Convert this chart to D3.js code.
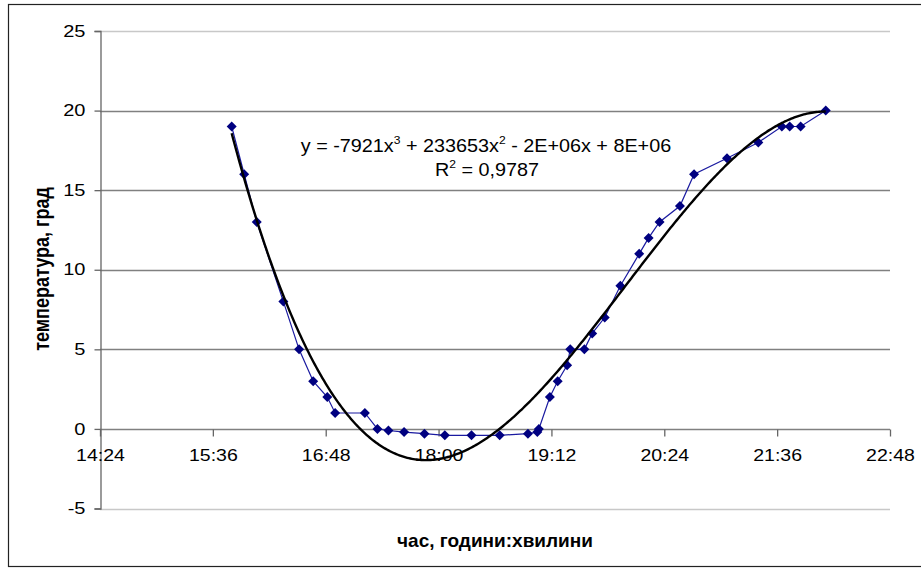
<!DOCTYPE html>
<html>
<head>
<meta charset="utf-8">
<script src="https://cdn.jsdelivr.net/npm/d3@7"></script>
<style>
  body { margin: 0; background: #fff; }
  text { font-family: "Liberation Sans", Arial, sans-serif; }
</style>
</head>
<body>
<svg width="921" height="568"></svg>
<script>
// readings: time of day and temperature
var times = ["15:48","15:56","16:04","16:21","16:31","16:40","16:49","16:54","17:13","17:21",
             "17:28","17:38","17:51","18:04","18:21","18:39","18:57","19:03","19:04","19:11",
             "19:16","19:22","19:24","19:33","19:38","19:46","19:56","20:08","20:14","20:21",
             "20:34","20:43","21:04","21:24","21:39","21:44","21:51","22:07"];
var temps = [19, 16, 13, 8, 5, 3, 2, 1, 1, 0,
             -0.1, -0.2, -0.3, -0.4, -0.4, -0.4, -0.3, -0.2, 0, 2,
             3, 4, 5, 5, 6, 7, 9, 11, 12, 13,
             14, 16, 17, 18, 19, 19, 19, 20];

var xTicks = ["14:24","15:36","16:48","18:00","19:12","20:24","21:36","22:48"];
var yTicks = [-5, 0, 5, 10, 15, 20, 25];

var eqLine1 = ["y = -7921x", "3", " + 233653x", "2", " - 2E+06x + 8E+06"];
var eqLine2 = ["R", "2", " = 0,9787"];

function toMin(s) { var p = s.split(":"); return +p[0] * 60 + +p[1]; }
function fmt(m) { var h = Math.floor(m / 60), mm = m % 60; return h + ":" + (mm < 10 ? "0" : "") + mm; }

var data = times.map(function(t, i) { return { t: toMin(t), v: temps[i] }; });

var svg = d3.select("svg");

// chart border
svg.append("rect")
    .attr("x", 8.5).attr("y", 4.5)
    .attr("width", 940).attr("height", 562)
    .attr("fill", "none").attr("stroke", "#222").attr("stroke-width", 1.2);

var xScale = d3.scaleLinear()
    .domain([toMin(xTicks[0]), toMin(xTicks[xTicks.length - 1])])
    .range([100, 890]);
var yScale = d3.scaleLinear()
    .domain([-5, 25])
    .range([508.5, 31]);

// gridlines
svg.append("g").selectAll("line")
    .data(yTicks)
    .enter().append("line")
    .attr("x1", 100).attr("x2", 890)
    .attr("y1", d => Math.round(yScale(d)) + 0.5)
    .attr("y2", d => Math.round(yScale(d)) + 0.5)
    .attr("stroke", d => (d == 25 || d == -5) ? "#c8c8c8" : "#808080")
    .attr("stroke-width", 1.3);

// y axis
var yAxis = svg.append("g")
    .attr("transform", "translate(100.5,0)")
    .call(d3.axisLeft(yScale).tickValues(yTicks).tickSize(6).tickPadding(10)
      .tickFormat(d => d));
yAxis.select(".domain").attr("stroke", "#666").attr("stroke-width", 1.3);
yAxis.selectAll(".tick line").attr("stroke", "#666").attr("stroke-width", 1.3);
yAxis.selectAll("text")
    .attr("font-size", 16).attr("fill", "#000")
    .attr("x", 0).attr("dx", 0)
    .attr("transform", "translate(-15,0) scale(1.25,1)");

// x axis crossing at 0
var xAxis = svg.append("g")
    .attr("transform", "translate(0," + (Math.round(yScale(0)) + 0.5) + ")")
    .call(d3.axisBottom(xScale).tickValues(xTicks.map(toMin)).tickSize(7).tickPadding(13)
      .tickFormat(fmt));
xAxis.select(".domain").remove();
xAxis.selectAll(".tick line").attr("stroke", "#666").attr("stroke-width", 1.3);
xAxis.selectAll("text")
    .attr("font-size", 16).attr("fill", "#000")
    .attr("transform", "scale(1.22,1)");

// cubic least-squares trendline
var tc = 1080;
function fitCubic(pts) {
  var n = 4, A = [], i, j, k;
  for (i = 0; i < n; i++) { A.push([0, 0, 0, 0, 0]); }
  pts.forEach(function(p) {
    var x = (p.t - tc) / 60;
    for (i = 0; i < n; i++) {
      for (j = 0; j < n; j++) A[i][j] += Math.pow(x, i + j);
      A[i][n] += p.v * Math.pow(x, i);
    }
  });
  for (i = 0; i < n; i++) {
    for (k = i + 1; k < n; k++) {
      var f = A[k][i] / A[i][i];
      for (j = i; j <= n; j++) A[k][j] -= f * A[i][j];
    }
  }
  var c = [0, 0, 0, 0];
  for (i = n - 1; i >= 0; i--) {
    var s = A[i][n];
    for (j = i + 1; j < n; j++) s -= A[i][j] * c[j];
    c[i] = s / A[i][i];
  }
  return c;
}
var coef = fitCubic(data);
var trend = d3.range(data[0].t, data[data.length - 1].t + 0.5, 1).map(function(t) {
  var x = (t - tc) / 60;
  return { t: t, v: coef[0] + coef[1] * x + coef[2] * x * x + coef[3] * x * x * x };
});

// series line
svg.append("path")
    .datum(data)
    .attr("fill", "none")
    .attr("stroke", "#1a1aa0")
    .attr("stroke-width", 1.2)
    .attr("d", d3.line().x(d => xScale(d.t)).y(d => yScale(d.v)));

// markers
svg.append("g").selectAll("path")
    .data(data)
    .enter().append("path")
    .attr("transform", d => "translate(" + xScale(d.t) + "," + yScale(d.v) + ")")
    .attr("d", "M0,-5L5,0L0,5L-5,0Z")
    .attr("fill", "#000080");

svg.append("path")
    .datum(trend)
    .attr("fill", "none")
    .attr("stroke", "#000")
    .attr("stroke-width", 2.4)
    .attr("d", d3.line().x(d => xScale(d.t)).y(d => yScale(d.v)));

// equation label
function richText(parts, x, y) {
  var t = svg.append("text")
      .attr("text-anchor", "middle")
      .attr("font-size", 18)
      .attr("transform", "translate(" + x + "," + y + ") scale(1.1,1)");
  parts.forEach(function(p, i) {
    var sup = i % 2 == 1;
    t.append("tspan")
        .attr("font-size", sup ? 11 : 18)
        .attr("dy", sup ? -8 : (i > 0 ? 8 : 0))
        .text(p);
  });
}
richText(eqLine1, 486, 152);
richText(eqLine2, 487, 176);

// axis titles
svg.append("text")
    .attr("x", 495).attr("y", 547)
    .attr("text-anchor", "middle")
    .attr("font-size", 19).attr("font-weight", "bold")
    .text("час, години:хвилини");

svg.append("text")
    .attr("transform", "translate(49,269) rotate(-90) scale(1,1.2)")
    .attr("text-anchor", "middle")
    .attr("font-size", 18).attr("font-weight", "bold")
    .text("температура, град");
</script>
</body>
</html>
